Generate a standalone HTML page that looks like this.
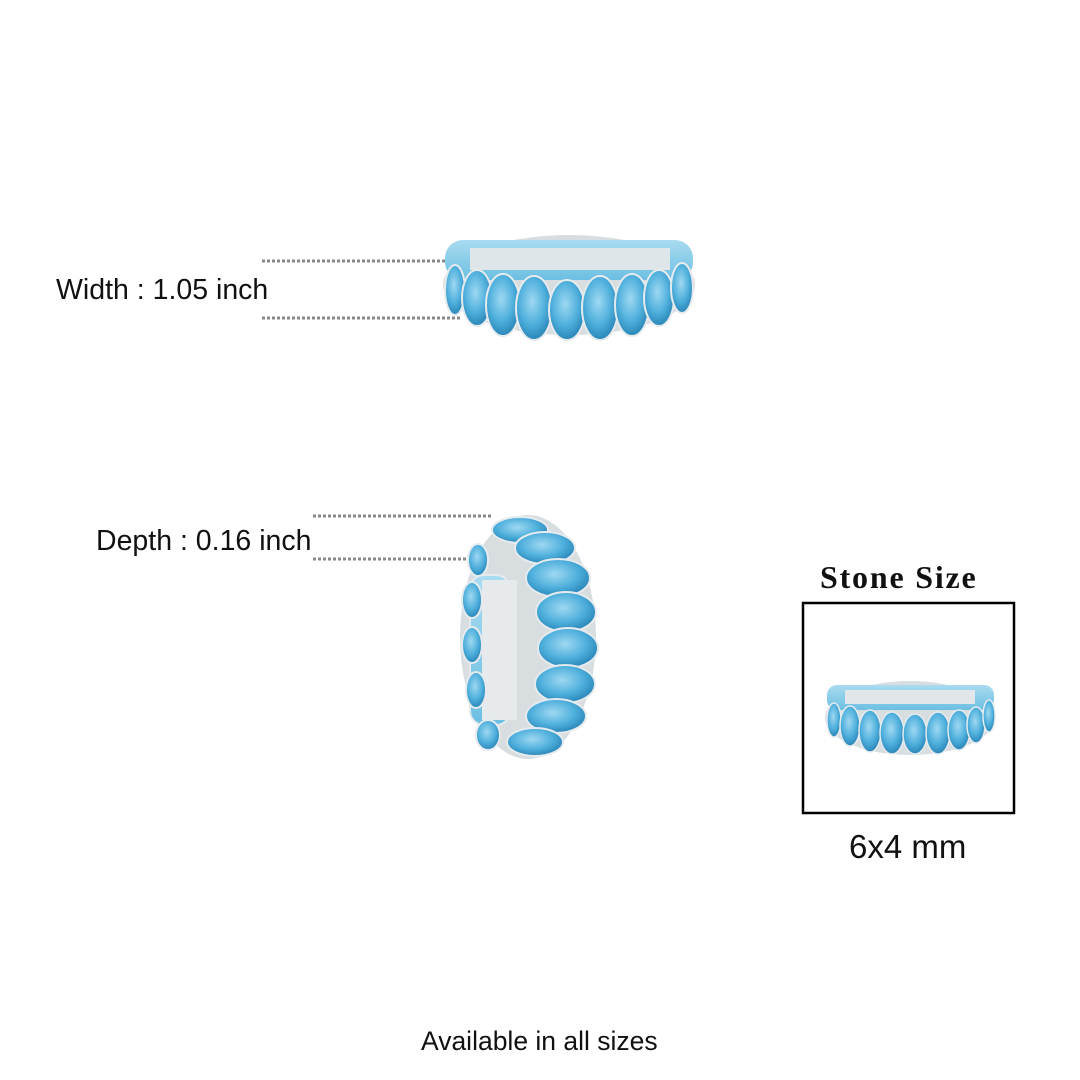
<!DOCTYPE html>
<html><head><meta charset="utf-8"><style>
html,body{margin:0;padding:0;background:#fff;}
body{width:1080px;height:1080px;position:relative;overflow:hidden;font-family:"Liberation Sans",sans-serif;color:#111;}
.t{position:absolute;white-space:nowrap;}
</style></head><body>
<svg width="1080" height="1080" style="position:absolute;left:0;top:0">
<defs>
<radialGradient id="g" cx="45%" cy="40%" r="60%"><stop offset="0" stop-color="#9fd8f2"/><stop offset="0.6" stop-color="#4fb0dc"/><stop offset="1" stop-color="#2a86b8"/></radialGradient>
<linearGradient id="b" x1="0" y1="0" x2="0" y2="1"><stop offset="0" stop-color="#a9dbf0"/><stop offset="1" stop-color="#6cbfe2"/></linearGradient>
</defs>
<g stroke="#888" stroke-width="3" stroke-dasharray="3,2">
<line x1="262" y1="261" x2="446" y2="261"/>
<line x1="262" y1="318" x2="460" y2="318"/>
<line x1="313" y1="516" x2="492" y2="516"/>
<line x1="313" y1="559" x2="476" y2="559"/>
</g>
<ellipse cx="569" cy="285" rx="126" ry="50" fill="#d8dde0"/>
<rect x="445" y="240" width="248" height="40" rx="18" fill="url(#b)"/>
<g fill="#dfe6ea"><rect x="470" y="248" width="200" height="22"/></g>
<g fill="url(#g)" stroke="#e5eaee" stroke-width="2">
<ellipse cx="455" cy="290" rx="10" ry="25"/>
<ellipse cx="477" cy="298" rx="15" ry="28"/>
<ellipse cx="503" cy="305" rx="17" ry="31"/>
<ellipse cx="534" cy="308" rx="18" ry="32"/>
<ellipse cx="567" cy="310" rx="18" ry="30"/>
<ellipse cx="600" cy="308" rx="18" ry="32"/>
<ellipse cx="632" cy="305" rx="17" ry="31"/>
<ellipse cx="659" cy="298" rx="15" ry="28"/>
<ellipse cx="682" cy="288" rx="11" ry="25"/>
</g>
<ellipse cx="528" cy="637" rx="68" ry="122" fill="#d8dde0"/>
<g fill="url(#b)" stroke="#e5eaee" stroke-width="2">
<rect x="470" y="575" width="40" height="150" rx="14"/>
</g>
<g fill="#e6eaed"><rect x="482" y="580" width="35" height="140"/></g>
<g fill="url(#g)" stroke="#e5eaee" stroke-width="2">
<ellipse cx="520" cy="530" rx="28" ry="13"/>
<ellipse cx="545" cy="548" rx="30" ry="16"/>
<ellipse cx="558" cy="578" rx="32" ry="19"/>
<ellipse cx="566" cy="612" rx="30" ry="20"/>
<ellipse cx="568" cy="648" rx="30" ry="20"/>
<ellipse cx="565" cy="684" rx="30" ry="19"/>
<ellipse cx="556" cy="716" rx="30" ry="17"/>
<ellipse cx="535" cy="742" rx="28" ry="14"/>
<ellipse cx="478" cy="560" rx="10" ry="16"/>
<ellipse cx="472" cy="600" rx="10" ry="18"/>
<ellipse cx="472" cy="645" rx="10" ry="18"/>
<ellipse cx="476" cy="690" rx="10" ry="18"/>
<ellipse cx="488" cy="735" rx="12" ry="15"/>
</g>
<rect x="803" y="603" width="211" height="210" fill="none" stroke="#000" stroke-width="2.5"/>
<ellipse cx="910" cy="718" rx="85" ry="37" fill="#d8dde0"/>
<rect x="827" y="685" width="167" height="25" rx="10" fill="url(#b)"/>
<rect x="845" y="690" width="130" height="14" fill="#e0e6ea"/>
<g fill="url(#g)" stroke="#e5eaee" stroke-width="1.5">
<ellipse cx="834" cy="720" rx="7" ry="17"/>
<ellipse cx="850" cy="726" rx="10" ry="20"/>
<ellipse cx="870" cy="731" rx="11" ry="21"/>
<ellipse cx="892" cy="733" rx="12" ry="21"/>
<ellipse cx="915" cy="734" rx="12" ry="20"/>
<ellipse cx="938" cy="733" rx="12" ry="21"/>
<ellipse cx="959" cy="730" rx="11" ry="20"/>
<ellipse cx="976" cy="725" rx="9" ry="18"/>
<ellipse cx="989" cy="716" rx="6" ry="16"/>
</g>
</svg>
<div class="t" style="left:56px;top:274px;font-size:28.5px;">Width : 1.05 inch</div>
<div class="t" style="left:96px;top:525px;font-size:28.5px;">Depth : 0.16 inch</div>
<div class="t" style="left:820px;top:559px;font-size:32px;font-weight:bold;letter-spacing:1.8px;font-family:'Liberation Serif',serif;">Stone Size</div>
<div class="t" style="left:849px;top:828px;font-size:33px;">6x4 mm</div>
<div class="t" style="left:421px;top:1026px;font-size:26.5px;">Available in all sizes</div>
</body></html>
